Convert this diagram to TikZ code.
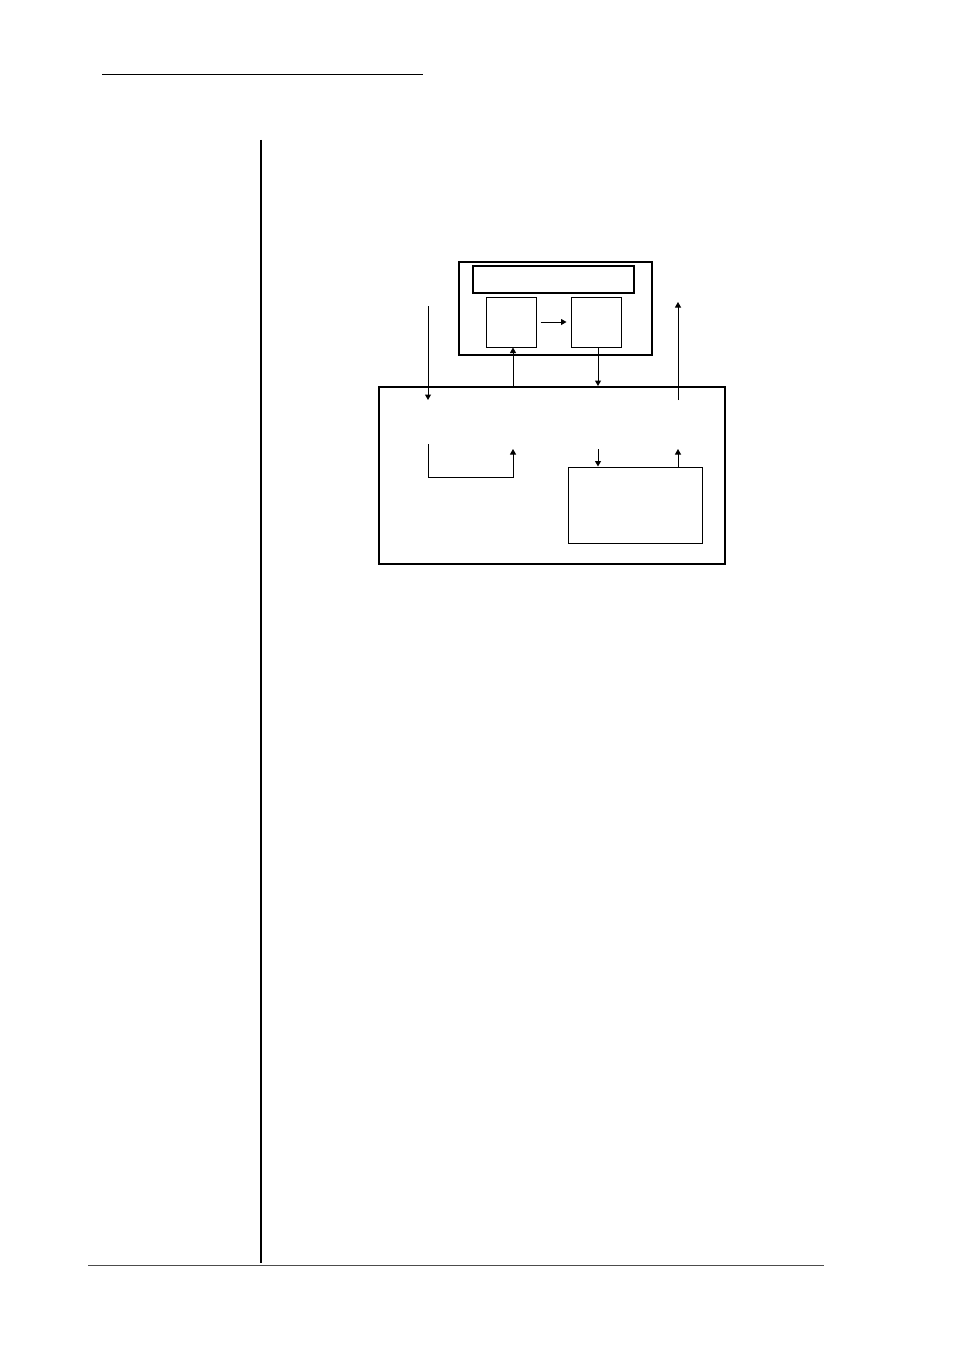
\documentclass[tikz,border=0pt]{standalone}
\usetikzlibrary{arrows.meta}
\tikzset{
  box/.style={draw, rectangle, inner sep=0pt},
  flow/.style={-{Triangle[length=5.5pt,width=6pt]}}
}
\begin{document}
\begin{tikzpicture}[x=1pt,y=-1pt,line width=1pt]
	    \useasboundingbox (0,0) rectangle (954,1351);
	    % page rules
	    \draw (102,75) -- (423,75);
	    \draw[line width=2pt] (261,140) -- (261,1263);
	    \draw[black!70] (88,1265) -- (824,1265);
	    % boxes
	    \node[box, line width=2pt, minimum width=193pt, minimum height=93pt] (host) at (555.5,308.5) {};
	    \node[box, line width=1.3pt, minimum width=161pt, minimum height=27pt] (bar) at (553.5,279.5) {};
	    \node[box, minimum width=50pt, minimum height=50pt] (lbox) at (511,322) {};
	    \node[box, minimum width=50pt, minimum height=50pt] (rbox) at (596,322) {};
	    \node[box, line width=2pt, minimum width=346pt, minimum height=177pt] (main) at (552,475.5) {};
	    \node[box, minimum width=134pt, minimum height=76pt] (inner) at (635,505) {};
	    % free ends
	    \coordinate (in) at (428,306);
	    \coordinate (inend) at (428,400);
	    \coordinate (out) at (678,302);
	    \coordinate (outstart) at (678,400);
	    \coordinate (loopa) at (428,444);
	    \coordinate (loopb) at (513,449);
	    \coordinate (cin) at (598,449);
	    \coordinate (cout) at (678,449);
	    % connectors
	    \draw[flow, shorten <=4pt, shorten >=4pt] (lbox) -- (rbox);
	    \draw[flow] (main.north -| loopb) -- (lbox.south -| loopb);
	    \draw[flow] (rbox.south -| cin) -- (main.north -| cin);
	    \draw[flow] (in) -- (inend);
	    \draw[flow] (outstart) -- (out);
	    \draw[flow] (loopa) -- ++(0,33) -| (loopb);
	    \draw[flow] (cin) -- (inner.north -| cin);
	    \draw[flow] (inner.north -| cout) -- (cout);
	\end{tikzpicture}
\end{document}
